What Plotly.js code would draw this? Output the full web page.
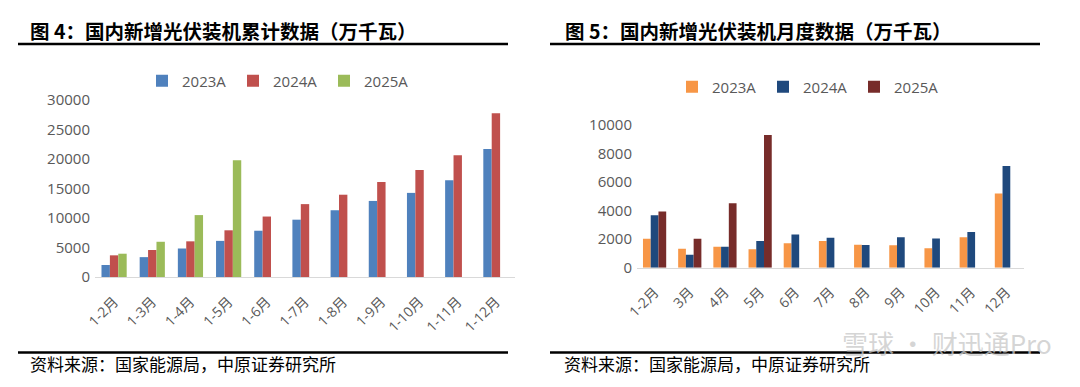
<!DOCTYPE html>
<html>
<head>
<meta charset="utf-8">
<script src="https://cdn.plot.ly/plotly-3.0.1.min.js"></script>
<style>
html,body{margin:0;padding:0;background:#fff;}
#chart{width:1080px;height:387px;}
</style>
</head>
<body>
<div id="chart"></div>
<script>
// ---------- data ----------
var cumCategories = ['1-2月','1-3月','1-4月','1-5月','1-6月','1-7月','1-8月','1-9月','1-10月','1-11月','1-12月'];
var cum2023 = [2037, 3366, 4831, 6122, 7842, 9716, 11316, 12894, 14256, 16388, 21688];
var cum2024 = [3672, 4574, 6046, 7915, 10248, 12353, 13948, 16088, 18130, 20630, 27757];
var cum2025 = [3947, 5971, 10493, 19785, null, null, null, null, null, null, null];

var monCategories = ['1-2月','3月','4月','5月','6月','7月','8月','9月','10月','11月','12月'];
var mon2023 = [2037, 1329, 1465, 1291, 1720, 1874, 1600, 1578, 1362, 2132, 5200];
var mon2024 = [3672, 902, 1472, 1869, 2333, 2105, 1595, 2140, 2042, 2500, 7127];
var mon2025 = [3947, 2024, 4522, 9292, null, null, null, null, null, null, null];

var seriesNames = ['2023A', '2024A', '2025A'];
var leftTicks = [0, 5000, 10000, 15000, 20000, 25000, 30000];
var rightTicks = [0, 2000, 4000, 6000, 8000, 10000];

var leftTitle = '图 4：国内新增光伏装机累计数据（万千瓦）';
var rightTitle = '图 5：国内新增光伏装机月度数据（万千瓦）';
var sourceText = '资料来源：国家能源局，中原证券研究所';
var watermark = '雪球 · 财迅通Pro';

// ---------- styles ----------
var W = 1080, H = 387;
function px(x){ return x / W; }
function py(y){ return 1 - y / H; }
var numFont = 'Open Sans, Noto Sans CJK SC, sans-serif';
var cjkFont = 'Noto Sans CJK SC, sans-serif';
var grey = '#595959';
var leftColors = ['#4f81bd', '#c0504d', '#9bbb59'];
var rightColors = ['#f79646', '#1f497d', '#772c2a'];

var traces = [];
[cum2023, cum2024, cum2025].forEach(function(vals, i){
  traces.push({type:'bar', x:cumCategories, y:vals, name:seriesNames[i],
    marker:{color:leftColors[i]}, xaxis:'x', yaxis:'y', legend:'legend',
    hoverinfo:'x+y+name'});
});
[mon2023, mon2024, mon2025].forEach(function(vals, i){
  traces.push({type:'bar', x:monCategories, y:vals, name:seriesNames[i],
    marker:{color:rightColors[i]}, xaxis:'x2', yaxis:'y2', legend:'legend2',
    hoverinfo:'x+y+name'});
});

function xAxis(domain){
  return {domain:domain, type:'category', showline:true, linecolor:'#d9d9d9', linewidth:1,
    ticks:'', showgrid:false, zeroline:false, tickangle:-45,
    tickfont:{family:numFont, size:14, color:grey}, ticklabelstandoff:10, fixedrange:true};
}
function yAxis(domain, range, tickvals, anchor){
  return {domain:domain, range:range, tickvals:tickvals, tickformat:'d', showgrid:false, zeroline:false,
    showline:false, ticks:'', anchor:anchor,
    tickfont:{family:numFont, size:15, color:grey}, ticklabelstandoff:4, fixedrange:true};
}

var xa1 = xAxis([px(95), px(515)]); xa1.anchor = 'y';
var xa2 = xAxis([px(637), px(1024)]); xa2.anchor = 'y2';

var layout = {
  width:W, height:H, margin:{l:0, r:0, t:0, b:0},
  paper_bgcolor:'#ffffff', plot_bgcolor:'#ffffff',
  barmode:'group', bargap:0.34, bargroupgap:0,
  xaxis:xa1,
  yaxis:yAxis([py(277), py(100)], [0, 30000], leftTicks, 'x'),
  xaxis2:xa2,
  yaxis2:yAxis([py(267.7), py(125)], [0, 10000], rightTicks, 'x2'),
  legend:{orientation:'h', x:px(142), y:py(81), xanchor:'left', yanchor:'middle',
    font:{family:numFont, size:15, color:grey}, bgcolor:'rgba(0,0,0,0)',
    entrywidth:46, entrywidthmode:'pixels'},
  legend2:{orientation:'h', x:px(672), y:py(87), xanchor:'left', yanchor:'middle',
    font:{family:numFont, size:15, color:grey}, bgcolor:'rgba(0,0,0,0)',
    entrywidth:46, entrywidthmode:'pixels'},
  shapes:[
    {type:'line', xref:'paper', yref:'paper', x0:px(18), x1:px(508), y0:py(44), y1:py(44), line:{color:'#000', width:2.5}},
    {type:'line', xref:'paper', yref:'paper', x0:px(550), x1:px(1040), y0:py(44), y1:py(44), line:{color:'#000', width:2.5}},
    {type:'line', xref:'paper', yref:'paper', x0:px(18), x1:px(508), y0:py(352.5), y1:py(352.5), line:{color:'#000', width:2.5}},
    {type:'line', xref:'paper', yref:'paper', x0:px(550), x1:px(1040), y0:py(352.5), y1:py(352.5), line:{color:'#000', width:2.5}}
  ],
  annotations:[
    {text:leftTitle, xref:'paper', yref:'paper', x:px(28), y:py(31), xanchor:'left', yanchor:'middle', showarrow:false,
      font:{family:cjkFont, size:19.5, color:'#000', weight:'bold'}},
    {text:rightTitle, xref:'paper', yref:'paper', x:px(563), y:py(31), xanchor:'left', yanchor:'middle', showarrow:false,
      font:{family:cjkFont, size:19.5, color:'#000', weight:'bold'}},
    {text:sourceText, xref:'paper', yref:'paper', x:px(28), y:py(363), xanchor:'left', yanchor:'middle', showarrow:false,
      font:{family:cjkFont, size:17, color:'#000'}},
    {text:sourceText, xref:'paper', yref:'paper', x:px(562), y:py(363), xanchor:'left', yanchor:'middle', showarrow:false,
      font:{family:cjkFont, size:17, color:'#000'}},
    {text:watermark, xref:'paper', yref:'paper', x:px(1054), y:py(342), xanchor:'right', yanchor:'middle', showarrow:false,
      font:{family:cjkFont, size:26, color:'rgba(200,200,200,0.75)'}}
  ]
};

Plotly.newPlot('chart', traces, layout, {displayModeBar:false, staticPlot:true});
</script>
</body>
</html>
